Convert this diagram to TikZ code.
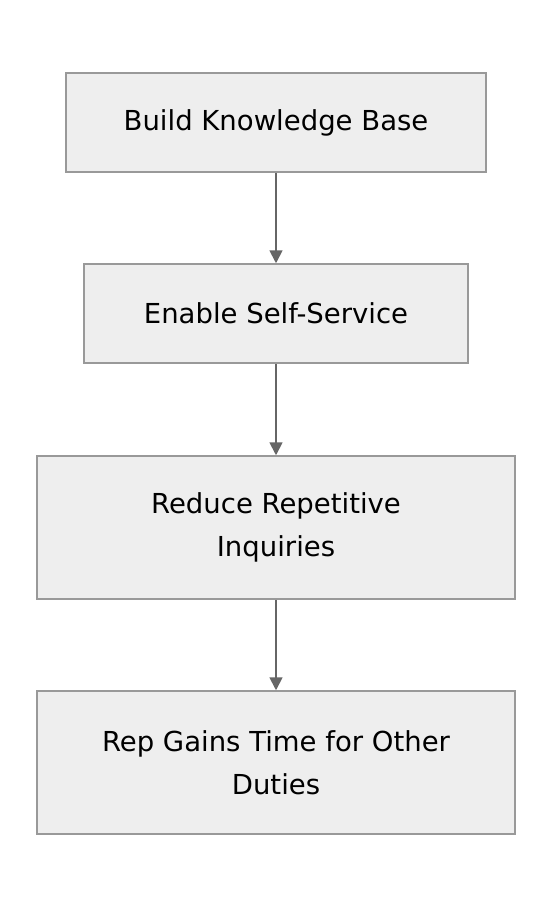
\documentclass[tikz,border=0pt]{standalone}
\usepackage{fontspec}
\setmainfont{DejaVu Sans}
\usepackage{tikz}
\usetikzlibrary{shapes.geometric, arrows.meta, positioning, calc}

\definecolor{boxfill}{HTML}{EEEEEE}
\definecolor{boxline}{HTML}{999999}
\definecolor{arrowgray}{HTML}{666666}

\begin{document}
\begin{tikzpicture}[x=1pt, y=-1pt,
    stepbox/.style={draw=boxline, fill=boxfill, line width=1.5pt, inner sep=0pt,
        align=center, font=\fontsize{27.5}{43}\selectfont},
    flow/.style={draw=arrowgray, line width=1.8pt, -{Triangle[length=13pt, width=13pt]}}]
\useasboundingbox (0,0) rectangle (552,908);

% Boxes
\node[stepbox, minimum width=420pt, minimum height=99pt] (build) at (276,122.5) {Build Knowledge Base};
\node[stepbox, minimum width=384pt, minimum height=99pt] (enable) at (276,313.5) {Enable Self-Service};
\node[stepbox, minimum width=478pt, minimum height=143pt] (reduce) at (276,527.5) {Reduce Repetitive\\Inquiries};
\node[stepbox, minimum width=478pt, minimum height=143pt] (gains) at (276,762.5) {Rep Gains Time for Other\\Duties};

% Arrows
\draw[flow] (build) -- (enable);
\draw[flow] (enable) -- (reduce);
\draw[flow] (reduce) -- (gains);
\end{tikzpicture}
\end{document}
